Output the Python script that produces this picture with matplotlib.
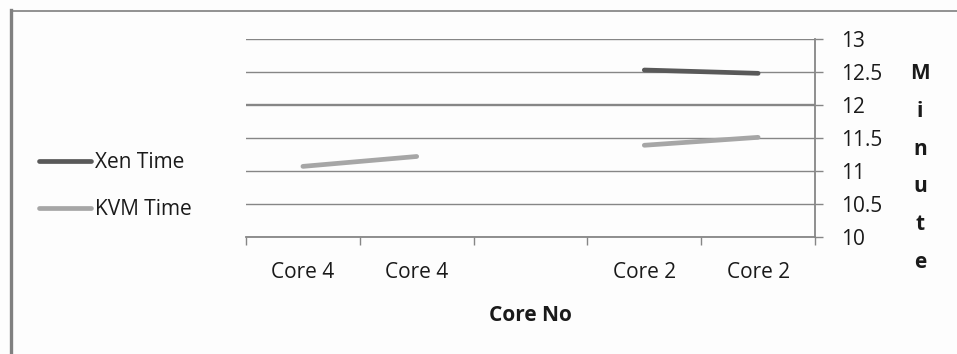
import matplotlib.pyplot as plt
import numpy as np

# chart data
categories = ["Core 4", "Core 4", "", "Core 2", "Core 2"]
xen_time = [np.nan, np.nan, np.nan, 12.53, 12.48]
kvm_time = [11.07, 11.22, np.nan, 11.39, 11.51]
y_ticks = [10, 10.5, 11, 11.5, 12, 12.5, 13]
y_tick_labels = ["10", "10.5", "11", "11.5", "12", "12.5", "13"]

plt.rcParams["font.family"] = ["Open Sans", "DejaVu Sans"]

fs = 15
grid_color = "#868686"
text_color = "#1a1a1a"
fig = plt.figure(figsize=(9.57, 3.54), dpi=100)
fig.patch.set_facecolor("#fdfdfd")

# outer chart frame (only top and left edges visible in the crop)
fig.add_artist(plt.Line2D([10.5 / 957, 1.0], [1 - 10.5 / 354, 1 - 10.5 / 354],
                          transform=fig.transFigure, color="#808080", lw=1.2))
fig.add_artist(plt.Line2D([11 / 957, 11 / 957], [0, 1 - 10 / 354],
                          transform=fig.transFigure, color="#808080", lw=2.4))

ax = fig.add_axes([246 / 957, 1 - 237 / 354, (815 - 246) / 957, (237 - 39) / 354])
ax.set_facecolor("none")

x = np.arange(len(categories))
ax.plot(x, xen_time, color="#595959", lw=3.4, solid_capstyle="round", label="Xen Time")
ax.plot(x, kvm_time, color="#a6a6a6", lw=3.4, solid_capstyle="round", label="KVM Time")

ax.set_xlim(-0.5, len(categories) - 0.5)
ax.set_ylim(10, 13)

# gridlines
for v in y_ticks:
    ax.axhline(v, color=grid_color, lw=1.7 if v == 12 else 1.0, zorder=0)

for s in ["top", "left"]:
    ax.spines[s].set_visible(False)
ax.spines["right"].set_color(grid_color)
ax.spines["right"].set_linewidth(1.3)
ax.spines["bottom"].set_color(grid_color)
ax.spines["bottom"].set_linewidth(1.3)

ax.yaxis.tick_right()
ax.set_yticks(y_ticks)
ax.set_yticklabels(y_tick_labels, fontsize=fs, color=text_color)
ax.tick_params(axis="y", length=5.8, width=1, color=grid_color, pad=13)

ax.set_xticks(np.arange(-0.5, len(categories), 1.0), minor=False)
ax.set_xticklabels([])
ax.set_xticks(x, minor=True)
ax.set_xticklabels(categories, minor=True, fontsize=fs, color=text_color)
ax.tick_params(axis="x", which="major", length=5.8, width=1, color=grid_color)
ax.tick_params(axis="x", which="minor", length=0, pad=18)

ax.set_xlabel("Core No", fontsize=fs, fontweight="bold", labelpad=16, color=text_color)

fig.text(920 / 957, 1 - 168 / 354, "\n".join("Minute"), ha="center", va="center",
         fontsize=fs, fontweight="bold", linespacing=2.05, color=text_color)

fig.legend(loc="center left", bbox_to_anchor=(20 / 957, 1 - 186 / 354),
           frameon=False, fontsize=fs, handlelength=2.5, handletextpad=0.2,
           labelspacing=1.25, labelcolor=text_color)

fig.savefig("out.png", dpi=100, facecolor=fig.get_facecolor())
